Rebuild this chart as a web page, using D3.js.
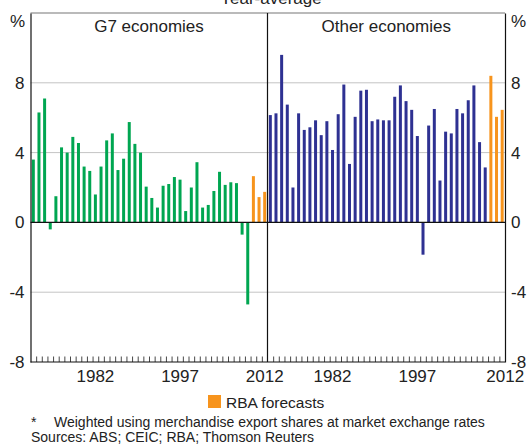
<!DOCTYPE html>
<html>
<head>
<meta charset="utf-8">
<script src="https://cdn.jsdelivr.net/npm/d3@7"></script>
<style>
  body { margin: 0; background: #fff; }
  svg { display: block; font-family: "Liberation Sans", Arial, sans-serif; }
</style>
</head>
<body>
<div id="chart"></div>
<script>
// year-average growth, %
var years = [1971, 1972, 1973, 1974, 1975, 1976, 1977, 1978, 1979, 1980,
             1981, 1982, 1983, 1984, 1985, 1986, 1987, 1988, 1989, 1990,
             1991, 1992, 1993, 1994, 1995, 1996, 1997, 1998, 1999, 2000,
             2001, 2002, 2003, 2004, 2005, 2006, 2007, 2008, 2009, 2010,
             2011, 2012];
var g7 = [3.6, 6.3, 7.1, -0.4, 1.5, 4.3, 4.0, 4.9, 4.55, 3.2,
          2.95, 1.6, 3.2, 4.7, 5.1, 3.0, 3.65, 5.75, 4.5, 4.0,
          2.05, 1.4, 0.85, 2.1, 2.2, 2.6, 2.45, 0.65, 2.0, 3.45,
          0.85, 1.0, 1.8, 2.9, 2.15, 2.3, 2.25, -0.7, -4.7, 2.65,
          1.45, 1.75];
var other = [6.15, 6.25, 9.6, 6.75, 2.0, 6.25, 5.3, 5.45, 5.85, 5.0,
             5.8, 4.15, 6.2, 7.9, 3.35, 6.05, 7.55, 7.6, 5.8, 5.9,
             5.85, 5.85, 7.2, 7.85, 6.95, 6.45, 4.95, -1.85, 5.55, 6.5,
             2.4, 5.2, 5.1, 6.5, 6.25, 7.0, 7.85, 4.6, 3.15, 8.4,
             6.05, 6.45];
var forecastYears = [2010, 2011, 2012];
var yTicks = [-8, -4, 0, 4, 8];
var yearLabels = [1982, 1997, 2012];
var panels = [
  {name: "G7 economies", values: g7, color: "#00a651"},
  {name: "Other economies", values: other, color: "#2e3192"}
];
var forecastColor = "#f7941d";

var width = 529, height = 445;
var plotTop = 13, plotBottom = 362;
var left = 30.5, mid = 267.5, right = 505;

var svg = d3.select("#chart").append("svg")
    .attr("width", width)
    .attr("height", height);

var y = d3.scaleLinear()
    .domain([-8, 12])
    .range([plotBottom, plotTop]);

// title (cut off at the top in the original)
svg.append("text")
    .attr("x", 271)
    .attr("y", 4)
    .attr("text-anchor", "middle")
    .attr("font-size", "17px")
    .attr("fill", "#222")
    .text("Year-average");

// grid lines
svg.selectAll(".grid")
    .data(yTicks.filter(function(d) { return d != 0 && d != -8; }))
    .enter()
    .append("line")
    .attr("x1", left)
    .attr("x2", right)
    .attr("y1", function(d) { return y(d); })
    .attr("y2", function(d) { return y(d); })
    .attr("stroke", "#c4c4c4")
    .attr("stroke-width", 1);

panels.forEach(function(p, i) {
  var x0 = i == 0 ? left : mid;
  var x1 = i == 0 ? mid : right;

  var x = d3.scaleBand()
      .domain(years)
      .range([x0, x1])
      .paddingInner(0.47)
      .paddingOuter(0.235);

  var rows = years.map(function(yr, j) { return {year: yr, value: p.values[j]}; });

  var g = svg.append("g");
  g.selectAll("rect")
      .data(rows)
      .enter()
      .append("rect")
      .attr("x", function(d) { return x(d.year); })
      .attr("width", x.bandwidth())
      .attr("y", function(d) { return y(Math.max(0, d.value)); })
      .attr("height", function(d) { return Math.abs(y(d.value) - y(0)); })
      .attr("fill", function(d) {
        return forecastYears.indexOf(d.year) >= 0 ? forecastColor : p.color;
      });

  // minor ticks at the year boundaries
  var xb = d3.scaleLinear()
      .domain([years[0] - 0.5, years[years.length - 1] + 0.5])
      .range([x0, x1]);
  svg.append("g")
      .attr("transform", "translate(0," + plotBottom + ")")
      .call(d3.axisBottom(xb)
        .tickValues(years.slice(1).map(function(d) { return d - 0.5; }))
        .tickSize(-5.5)
        .tickFormat(""))
      .call(function(a) {
        a.select(".domain").remove();
        a.selectAll("line").attr("stroke", "#333").attr("stroke-width", 0.9);
      });

  // year labels
  svg.append("g")
      .attr("transform", "translate(0," + plotBottom + ")")
      .call(d3.axisBottom(x).tickValues(yearLabels).tickSize(0).tickPadding(8))
      .call(function(a) {
        a.select(".domain").remove();
        a.selectAll("text")
          .attr("font-size", "17px")
          .attr("font-family", "Liberation Sans, Arial, sans-serif")
          .attr("fill", "#222")
          .attr("dx", function(d) { return i == 1 && d == 2012 ? 3 : 0; });
      });

  svg.append("text")
      .attr("x", (x0 + x1) / 2)
      .attr("y", 32)
      .attr("text-anchor", "middle")
      .attr("font-size", "17px")
      .attr("fill", "#222")
      .text(p.name);
});

// zero line
svg.append("line")
    .attr("x1", left).attr("x2", right)
    .attr("y1", y(0)).attr("y2", y(0))
    .attr("stroke", "#111").attr("stroke-width", 1.2);

// frame
svg.append("line")
    .attr("x1", left).attr("x2", right)
    .attr("y1", plotTop).attr("y2", plotTop)
    .attr("stroke", "#777").attr("stroke-width", 1.2);
svg.append("line")
    .attr("x1", mid).attr("x2", mid)
    .attr("y1", plotTop).attr("y2", plotBottom)
    .attr("stroke", "#111").attr("stroke-width", 1.2);

var fmt = function(d) { return String(d); };
var yAxisL = d3.axisLeft(y).tickValues(yTicks).tickSize(0).tickPadding(6).tickFormat(fmt);
var yAxisR = d3.axisRight(y).tickValues(yTicks).tickSize(0).tickPadding(6).tickFormat(fmt);

svg.append("g")
    .attr("class", "yaxis")
    .attr("transform", "translate(" + left + ",0)")
    .call(yAxisL);
svg.append("g")
    .attr("class", "yaxis right")
    .attr("transform", "translate(" + right + ",0)")
    .call(yAxisR);
svg.selectAll(".yaxis .tick text")
    .attr("font-size", "17px")
    .attr("font-family", "Liberation Sans, Arial, sans-serif")
    .attr("fill", "#222");
svg.selectAll(".yaxis .domain")
    .attr("stroke", "#111")
    .attr("stroke-width", 1.2);

// bottom axis line
svg.append("line")
    .attr("x1", left).attr("x2", right)
    .attr("y1", plotBottom).attr("y2", plotBottom)
    .attr("stroke", "#111").attr("stroke-width", 1.2);

svg.append("text")
    .attr("x", 25).attr("y", 27)
    .attr("text-anchor", "end")
    .attr("font-size", "17px")
    .attr("fill", "#222")
    .text("%");
svg.append("text")
    .attr("x", 511).attr("y", 27)
    .attr("font-size", "17px")
    .attr("fill", "#222")
    .text("%");

// legend
svg.append("rect")
    .attr("x", 208).attr("y", 395)
    .attr("width", 13).attr("height", 13)
    .attr("fill", forecastColor);
svg.append("text")
    .attr("x", 226).attr("y", 408)
    .attr("font-size", "15.5px")
    .attr("fill", "#222")
    .text("RBA forecasts");

// notes
svg.append("text")
    .attr("x", 31).attr("y", 427)
    .attr("font-size", "14px")
    .attr("fill", "#222")
    .text("*");
svg.append("text")
    .attr("x", 54).attr("y", 427)
    .attr("font-size", "14px")
    .attr("fill", "#222")
    .text("Weighted using merchandise export shares at market exchange rates");
svg.append("text")
    .attr("x", 31).attr("y", 442)
    .attr("font-size", "14px")
    .attr("fill", "#222")
    .text("Sources: ABS; CEIC; RBA; Thomson Reuters");
</script>
</body>
</html>
